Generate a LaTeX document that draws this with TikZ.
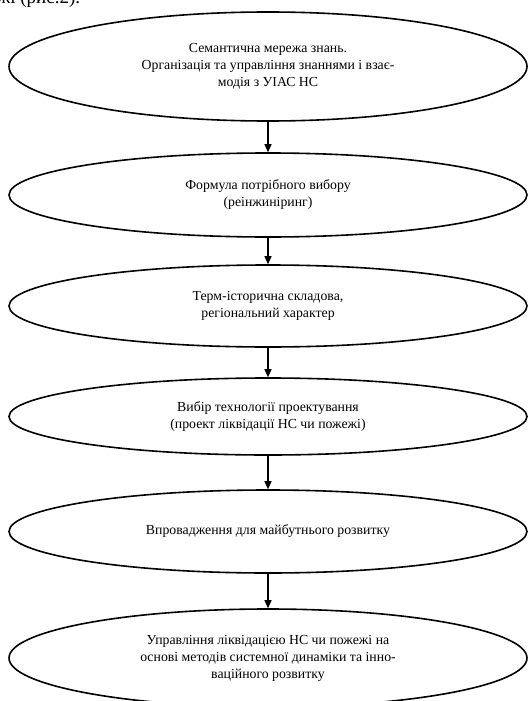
\documentclass[tikz,border=0pt]{standalone}
\usepackage{fontspec}
\setmainfont{Liberation Serif}
\usetikzlibrary{shapes.geometric,arrows.meta}
\begin{document}
\begin{tikzpicture}[x=1pt,y=-1pt,
  oval/.style={ellipse,draw=black,line width=1.6pt,minimum width=518pt,inner sep=0pt,align=center,
    font=\fontsize{13.8}{17}\selectfont},
  conn/.style={line width=1.3pt,-{Triangle[length=8pt,width=7pt]}}]
\useasboundingbox (0,0) rectangle (528,701);
\node[anchor=base west,font=\fontsize{19}{22}\selectfont,inner sep=0pt] (cap) at (-3,4) {жі (рис.2).};
\node[oval,minimum height=109pt] (e1) at (268,66.5) {Семантична мережа знань.\\Організація та управління знаннями і взає-\\модія з УІАС НС};
\node[oval,minimum height=84pt] (e2) at (268,195) {Формула потрібного вибору\\(реінжиніринг)};
\node[oval,minimum height=82pt] (e3) at (268,306) {Терм-історична складова,\\регіональний характер};
\node[oval,minimum height=77pt] (e4) at (268,416.5) {Вибір технології проектування\\(проект ліквідації НС чи пожежі)};
\node[oval,minimum height=83pt] (e5) at (268,531.5) {Впровадження для майбутнього розвитку};
\node[oval,minimum height=98pt] (e6) at (268,658) {Управління ліквідацією НС чи пожежі на\\основі методів системної динаміки та інно-\\ваційного розвитку};
\draw[conn] (e1.south) -- (e2.north);
\draw[conn] (e2.south) -- (e3.north);
\draw[conn] (e3.south) -- (e4.north);
\draw[conn] (e4.south) -- (e5.north);
\draw[conn] (e5.south) -- (e6.north);
\end{tikzpicture}
\end{document}
